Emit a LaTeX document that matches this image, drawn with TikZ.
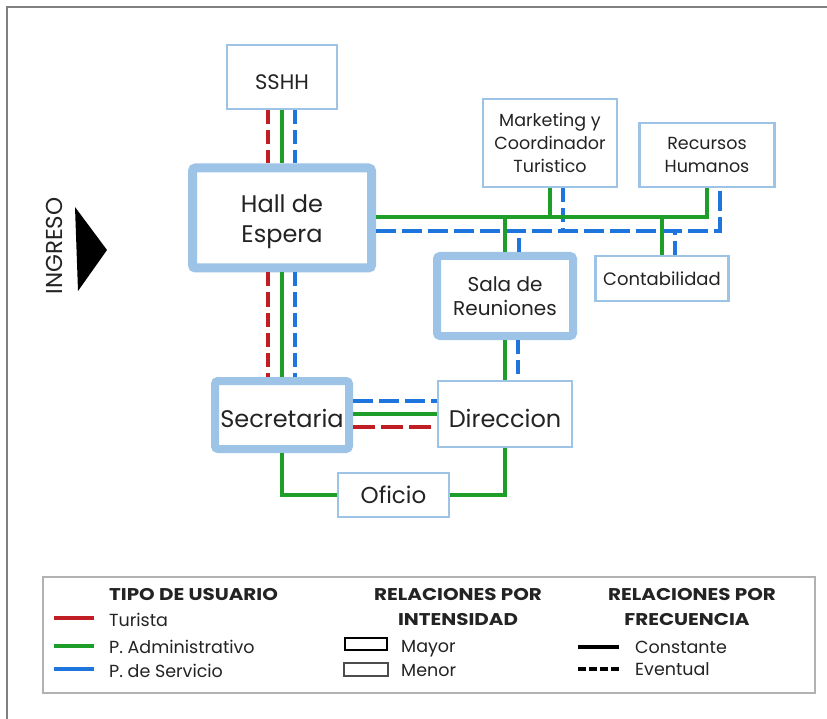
\documentclass[tikz,border=0pt]{standalone}
\usepackage{fontspec}
\setmainfont{Poppins}
\usetikzlibrary{calc}
\definecolor{cred}{RGB}{192,30,36}
\definecolor{cgreen}{RGB}{28,158,40}
\definecolor{cblue}{RGB}{30,118,220}
\definecolor{cbox}{RGB}{157,195,230}
\definecolor{ctext}{RGB}{35,35,35}
\newcommand\myfs[2]{\fontsize{#1}{#2}\selectfont}
\newcommand\hdtext[1]{\scalebox{1.17}[1]{#1}}
\newcommand\lowerby[2]{\raisebox{-#1}[\height][\depth]{#2}}
\begin{document}
\begin{tikzpicture}[x=1pt,y=-1pt,
  thinbox/.style={draw=cbox, line width=2.5pt, fill=white, inner sep=0pt, align=center, text=ctext},
  thickbox/.style={draw=cbox, line width=9pt, rounded corners=3pt, fill=white, inner sep=0pt, align=center, text=ctext},
  gl/.style={draw=cgreen, line width=4pt},
  rl/.style={draw=cred, line width=4pt, dash pattern=on 14pt off 6pt},
  bl/.style={draw=cblue, line width=4pt, dash pattern=on 14pt off 6pt},
  blh/.style={draw=cblue, line width=4pt, dash pattern=on 20pt off 6pt},
  rlh/.style={draw=cred, line width=4pt, dash pattern=on 22pt off 6pt},
  legtext/.style={anchor=base west, inner sep=0pt, text=ctext, font=\myfs{17.5}{20}},
  leghead/.style={anchor=base, inner sep=0pt, text=ctext, font=\myfs{17}{20}\bfseries},
]
\useasboundingbox (0,0) rectangle (827,719);
\fill[white] (0,0) rectangle (827,719);
\draw[gray, line width=2pt] (7,719) -- (7,7) -- (827,7);

% boxes
\node[thinbox, minimum width=110pt, minimum height=64pt, font=\myfs{21}{26}] (sshh) at (282,77) {\lowerby{5pt}{SSHH}};
\node[thickbox, minimum width=179pt, minimum height=100pt, font=\myfs{24}{30}] (hall) at (282,218) {\lowerby{4pt}{\begin{tabular}{@{}c@{}}Hall de\\Espera\end{tabular}}};
\node[thinbox, minimum width=134pt, minimum height=88pt, font=\myfs{17.5}{23}] (mkt) at (550,143) {Marketing y\\Coordinador\\Turistico};
\node[thinbox, minimum width=135pt, minimum height=64pt, font=\myfs{17.5}{23.5}] (rrhh) at (707,155) {Recursos\\Humanos};
\node[thinbox, minimum width=133pt, minimum height=45pt, font=\myfs{18}{22}] (cont) at (662,278.5) {Contabilidad};
\node[thickbox, line width=8pt, minimum width=136pt, minimum height=80pt, font=\myfs{20}{24}] (sala) at (505,296) {Sala de\\Reuniones};
\node[thickbox, line width=8pt, minimum width=134pt, minimum height=68pt, font=\myfs{24}{28}] (secr) at (282,415) {\lowerby{3pt}{Secretaria}};
\node[thinbox, minimum width=134pt, minimum height=66pt, font=\myfs{24}{28}] (dir) at (505,414) {\lowerby{4pt}{Direccion}};
\node[thinbox, minimum width=111pt, minimum height=44pt, font=\myfs{23}{28}] (ofi) at (393.5,495) {Oficio};

% SSHH - Hall
\draw[rl] ([xshift=-14pt]sshh.south) -- ([xshift=-14pt]hall.north);
\draw[gl] (sshh.south) -- (hall.north);
\draw[bl] ([xshift=13pt]sshh.south) -- ([xshift=13pt]hall.north);
% Hall - Secretaria
\draw[rl] ([xshift=-14pt]hall.south) -- ([xshift=-14pt]secr.north);
\draw[gl] (hall.south) -- (secr.north);
\draw[bl] ([xshift=13pt]hall.south) -- ([xshift=13pt]secr.north);

% bus lines
\coordinate (gy) at (0,217);
\coordinate (by) at (0,231);
\coordinate (rrb) at ([xshift=13pt]rrhh.south);
\coordinate (mkb) at ([xshift=13pt]mkt.south);
\coordinate (sab) at ([xshift=14pt]sala.north);
\coordinate (cob) at ([xshift=13pt]cont.north);
\draw[blh] (hall.east |- by) -- (rrb |- by) -- (rrb);
\draw[bl] (mkb) -- (mkb |- by);
\draw[bl] (sab) -- (sab |- by);
\draw[bl] (cob) -- (cob |- by);
\draw[gl] (hall.east |- gy) -- (rrhh.south |- gy) -- (rrhh.south);
\draw[gl] (mkt.south) -- (mkt.south |- gy);
\draw[gl] (sala.north) -- (sala.north |- gy);
\draw[gl] (cont.north) -- (cont.north |- gy);

% Sala - Direccion
\draw[gl] (sala.south) -- (dir.north);
\draw[bl] ([xshift=13pt]sala.south) -- ([xshift=13pt]dir.north);

% Secretaria - Direccion
\coordinate (sdb) at (0,401);
\coordinate (sdg) at (0,414);
\coordinate (sdr) at (0,427);
\draw[blh] (secr.east |- sdb) -- (dir.west |- sdb);
\draw[gl] (secr.east |- sdg) -- (dir.west |- sdg);
\draw[rlh] (secr.east |- sdr) -- (dir.west |- sdr);

% Oficio
\draw[gl] (secr.south) |- (ofi.west);
\draw[gl] (ofi.east) -| (dir.south);

% Ingreso
\node[rotate=90, font=\myfs{23}{28}, text=ctext, inner sep=0pt] (ingreso) at (54,246) {INGRESO};
\fill[black] (75,207) -- (107,250) -- (78,291) -- cycle;

% legend
\node[draw=gray!60, line width=1.5pt, minimum width=772pt, minimum height=116pt, inner sep=0pt] (leg) at (429,635) {};
\node[anchor=base west, inner sep=0pt, text=ctext, font=\myfs{17}{20}\bfseries] (h1) at (109,600) {\hdtext{TIPO DE USUARIO}};
\node[leghead] (h2a) at (458,600) {\hdtext{RELACIONES POR}};
\node[leghead] (h2b) at (458,625) {\hdtext{INTENSIDAD}};
\node[leghead] (h3a) at (692,600) {\hdtext{RELACIONES POR}};
\node[leghead] (h3b) at (687,625) {\hdtext{FRECUENCIA}};

\draw[cred, line width=4pt] (54,618) -- (94,618);
\draw[cgreen, line width=4pt] (54,646) -- (94,646);
\draw[cblue, line width=4pt] (54,669) -- (94,669);
\node[legtext] (t1) at (109,626) {Turista};
\node[legtext] (t2) at (109,653) {P. Administrativo};
\node[legtext] (t3) at (109,677) {P. de Servicio};

\draw[black, line width=2.5pt] (345,638) rectangle (387,650);
\draw[black!70, line width=1.2pt] (344,663) rectangle (388,676);
\node[legtext] (t4) at (401,652) {Mayor};
\node[legtext] (t5) at (401,676) {Menor};

\draw[black, line width=4pt] (578,647) -- (619,647);
\draw[black, line width=4pt, dash pattern=on 7.7pt off 3.4pt] (578,669) -- (619,669);
\node[legtext] (t6) at (635,653) {Constante};
\node[legtext] (t7) at (635,675) {Eventual};
\end{tikzpicture}
\end{document}
